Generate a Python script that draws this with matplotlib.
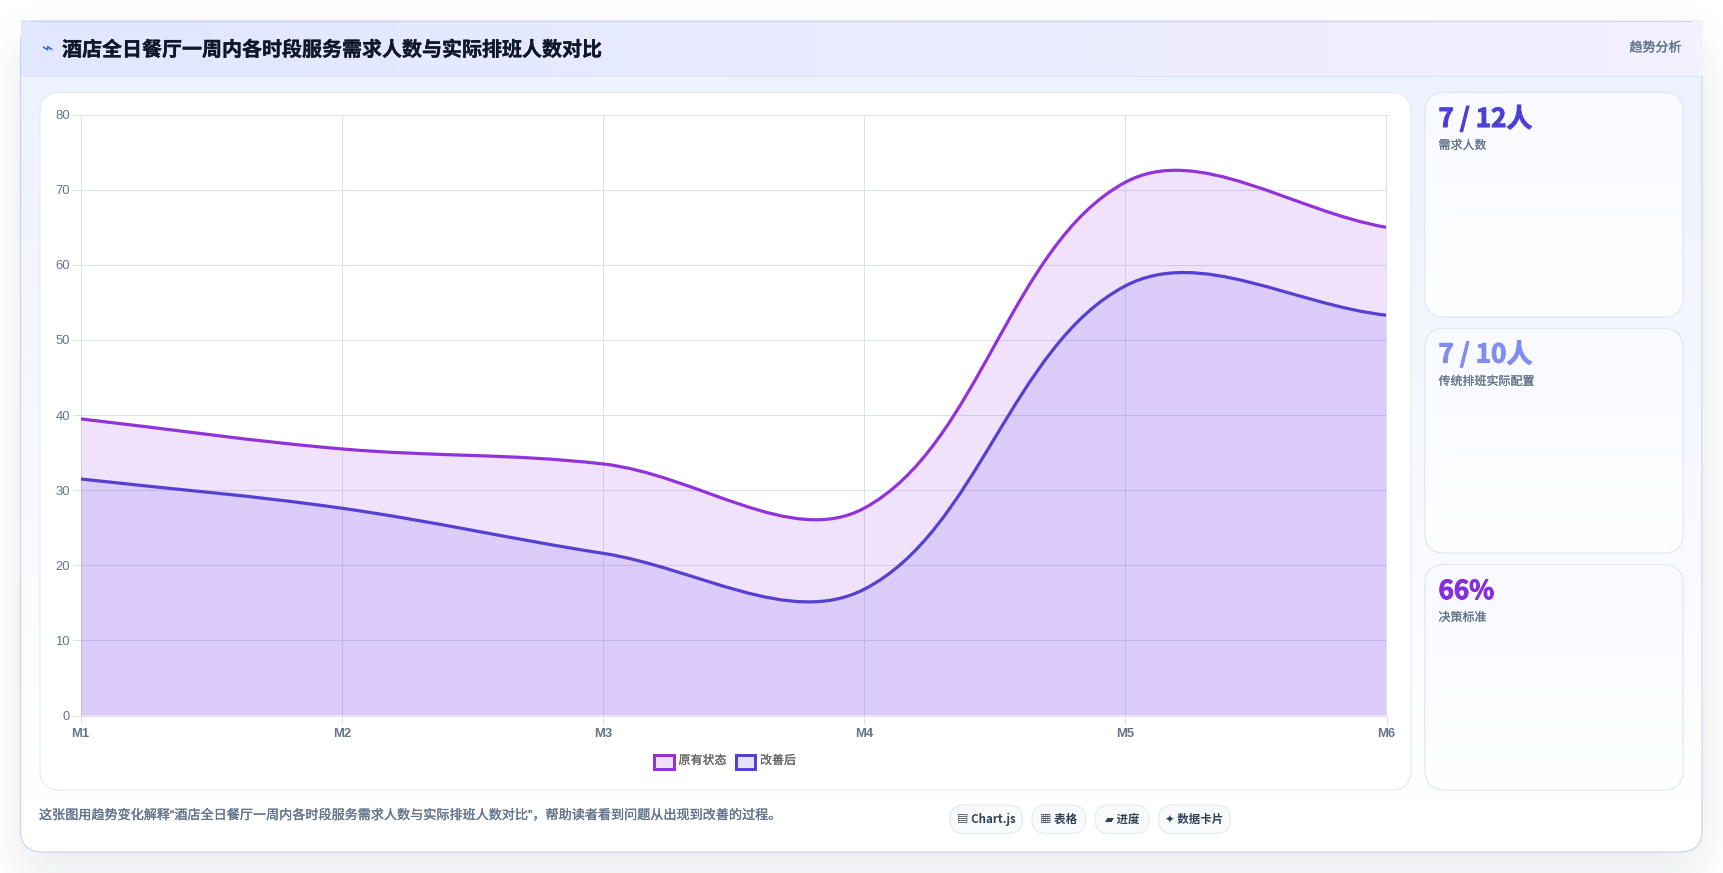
import math
import numpy as np
import matplotlib
matplotlib.use('Agg')
import matplotlib.pyplot as plt
import matplotlib.patheffects as pe
from matplotlib.patches import FancyBboxPatch, PathPatch, Rectangle
from matplotlib.path import Path

W, H = 1723, 873
px = 0.72  # font points per pixel at dpi 100

CJK = ['Noto Sans CJK SC', 'DejaVu Sans']
LATIN_CJK = ['Liberation Sans', 'Noto Sans CJK SC']

title = '酒店全日餐厅一周内各时段服务需求人数与实际排班人数对比'
badge = '趋势分析'
footnote = '这张图用趋势变化解释“酒店全日餐厅一周内各时段服务需求人数与实际排班人数对比”，帮助读者看到问题从出现到改善的过程。'

months = ['M1', 'M2', 'M3', 'M4', 'M5', 'M6']
before = [39.5, 35.5, 33.5, 27.6, 71.0, 65.0]
after = [31.5, 27.6, 21.6, 16.8, 57.2, 53.3]
y_ticks = [0, 10, 20, 30, 40, 50, 60, 70, 80]
series_names = ['原有状态', '改善后']
series_colors = ['#9233d9', '#5540d2']
fill_colors = ['#943ee4', '#5933f3']
fill_alpha = [0.15, 0.12]

stat_values = ['7 / 12人', '7 / 10人', '66%']
stat_labels = ['需求人数', '传统排班实际配置', '决策标准']
stat_colors = ['#4f3fd6', '#818cf0', '#8430dc']

pill_labels = ['▤ Chart.js', '▦ 表格', '▰ 进度', '✦ 数据卡片']


def spline_path(values, ax_w, ax_h, tension=0.36):
    # same control point rule as a tension spline, measured in screen pixels
    sx = ax_w / (len(values) - 1)
    sy = ax_h / 80
    xs = np.arange(len(values), dtype=float)
    ys = np.array(values, dtype=float)
    verts = [(xs[0], ys[0])]
    codes = [Path.MOVETO]
    before_cp = []
    after_cp = []
    for i in range(len(xs)):
        p = max(i - 1, 0)
        n = min(i + 1, len(xs) - 1)
        d01 = math.hypot((xs[i] - xs[p]) * sx, (ys[i] - ys[p]) * sy)
        d12 = math.hypot((xs[n] - xs[i]) * sx, (ys[n] - ys[i]) * sy)
        s01 = d01 / (d01 + d12)
        s12 = d12 / (d01 + d12)
        before_cp.append((xs[i] - tension * s01 * (xs[n] - xs[p]), ys[i] - tension * s01 * (ys[n] - ys[p])))
        after_cp.append((xs[i] + tension * s12 * (xs[n] - xs[p]), ys[i] + tension * s12 * (ys[n] - ys[p])))
    for i in range(len(xs) - 1):
        verts += [after_cp[i], before_cp[i + 1], (xs[i + 1], ys[i + 1])]
        codes += [Path.CURVE4, Path.CURVE4, Path.CURVE4]
    return verts, codes


def rounded(ax, x0, y0, x1, y1, r, fc, ec, lw=1.0, z=2):
    patch = FancyBboxPatch((x0, y0), x1 - x0, y1 - y0, boxstyle=f'round,pad=0,rounding_size={r}',
                           fc=fc, ec=ec, lw=lw * px, zorder=z)
    ax.add_patch(patch)
    return patch


def vgrad(top, bottom, n=256):
    c0 = np.array(matplotlib.colors.to_rgb(top))
    c1 = np.array(matplotlib.colors.to_rgb(bottom))
    t = np.linspace(0, 1, n)[:, None, None]
    return c0[None, None, :] * (1 - t) + c1[None, None, :] * t


def thick(width, color):
    # small stroke to give regular text a bit more weight
    return [pe.withStroke(linewidth=width * px, foreground=color)]


fig = plt.figure(figsize=(W / 100, H / 100), dpi=100, facecolor='white')
bg = fig.add_axes([0, 0, 1, 1])
bg.set_xlim(0, W)
bg.set_ylim(H, 0)
bg.axis('off')

# soft shadow under the main card
erf = np.vectorize(math.erf)
gx = np.arange(W) + 0.5
gy = np.arange(H) + 0.5
blur = 24.0
sh_x = 0.5 * (erf((gx - 20) / (blur * 1.414)) - erf((gx - 1702) / (blur * 1.414)))
sh_y = 0.5 * (erf((gy - 40) / (blur * 1.414)) - erf((gy - 875) / (blur * 1.414)))
shadow = np.zeros((H, W, 4))
shadow[..., :3] = matplotlib.colors.to_rgb('#0f172a')
shadow[..., 3] = np.outer(sh_y, sh_x) * 0.09
bg.imshow(shadow, extent=(0, W, H, 0), aspect='auto', zorder=1)

# main card with its body gradient
body = rounded(bg, 20.5, 20.5, 1702, 852, 22, 'white', 'none', z=1.5)
im = bg.imshow(vgrad('#eef2ff', '#ffffff'), extent=(20, 1702, 800, 76), aspect='auto', zorder=2)
im.set_clip_path(body)
rounded(bg, 20.5, 20.5, 1702, 852, 22, 'none', '#c9d4f3', lw=1.2, z=2.5)

# header strip, left to right tint
c0 = np.array(matplotlib.colors.to_rgb('#e0e7ff'))
c1 = np.array(matplotlib.colors.to_rgb('#f3f0ff'))
t = np.linspace(0, 1, 256)[None, :, None]
bg.imshow(c0[None, None, :] * (1 - t) + c1[None, None, :] * t, extent=(20.5, 1702, 76, 20.5), aspect='auto', zorder=3)
bg.plot([20.5, 1702], [76, 76], color='#dbe4f7', lw=1 * px, zorder=4)
bg.plot([30, 1692], [20.5, 20.5], color='#c9d4f3', lw=1 * px, zorder=4)

bg.text(47.5, 49, '⌁', fontsize=19 * px, color='#2f5fd8', ha='center', va='center', family='DejaVu Sans', zorder=6)
bg.text(62, 49.5, title, fontsize=20 * px, color='#0f172a', weight='bold', ha='left', va='center', family=CJK, zorder=6,
        path_effects=thick(0.3, '#0f172a'))
bg.text(1681.5, 48, badge, fontsize=13 * px, color='#64748b', ha='right', va='center', family=CJK, zorder=6,
        path_effects=thick(0.3, '#64748b'))

# chart panel
rounded(bg, 40, 92.5, 1411, 790, 20, 'white', '#e2e8f0', z=6)

# stat cards
card_tops = [92.5, 328.5, 564.5]
card_bottoms = [317, 553, 790]
value_y = [119.5, 355, 591.5]
label_y = [145.5, 381.5, 617.5]
for i in range(3):
    box = rounded(bg, 1425, card_tops[i], 1683, card_bottoms[i], 20, 'white', '#dde8f8', z=6)
    im = bg.imshow(vgrad('#f8faff', '#ffffff'), extent=(1425, 1683, card_bottoms[i], card_tops[i]), aspect='auto', zorder=6.1)
    im.set_clip_path(box)
    rounded(bg, 1425, card_tops[i], 1683, card_bottoms[i], 20, 'none', '#dde8f8', z=6.2)
    bg.text(1438.5, value_y[i], stat_values[i], fontsize=26 * px, color=stat_colors[i], weight='bold', ha='left', va='center',
            family=CJK, zorder=7, path_effects=thick(1.0, stat_colors[i]))
    bg.text(1438.5, label_y[i], stat_labels[i], fontsize=12 * px, color='#64748b', ha='left', va='center', family=CJK, zorder=7,
            path_effects=thick(0.2, '#64748b'))

# footer text and pills
bg.text(39, 815.5, footnote, fontsize=13.1 * px, color='#64748b', ha='left', va='center', family=LATIN_CJK, zorder=7,
        path_effects=thick(0.25, '#64748b'))
pill_x0 = [950, 1032, 1095, 1158.5]
pill_x1 = [1022.5, 1085.5, 1149, 1230.5]
for i in range(4):
    rounded(bg, pill_x0[i], 805, pill_x1[i], 833.5, 14, '#f8fafc', '#e2e8f0', z=6)
    bg.text((pill_x0[i] + pill_x1[i]) / 2, 819.5, pill_labels[i], fontsize=11.5 * px, color='#334155', weight='bold',
            ha='center', va='center', family=CJK, zorder=7)

# legend boxes
legend_x0 = [654, 735.5]
legend_text_x = [678.5, 760]
for i in range(2):
    bg.add_patch(Rectangle((legend_x0[i], 755), 19.5, 13.5, fc=matplotlib.colors.to_rgba(series_colors[i], 0.15),
                           ec=series_colors[i], lw=3 * px, zorder=7))
    bg.text(legend_text_x[i], 760.5, series_names[i], fontsize=12 * px, color='#666666', ha='left', va='center',
            family=CJK, zorder=7, path_effects=thick(0.2, '#666666'))

# line chart
plot_l, plot_r, plot_t, plot_b = 80.5, 1386.5, 114.7, 715.5
ax = fig.add_axes([plot_l / W, 1 - plot_b / H, (plot_r - plot_l) / W, (plot_b - plot_t) / H], facecolor='none', zorder=5)
ax.set_xlim(0, 5)
ax.set_ylim(0, 80)
ax.set_xticks(range(6), months)
ax.set_yticks(y_ticks)
ax.grid(True, color='#dde1e8', lw=1 * px)
ax.set_axisbelow(True)
ax.tick_params(axis='both', length=8 * px, width=1 * px, color='#dde1e8', labelcolor='#64748b', pad=2)
ax.tick_params(axis='x', pad=3)
for lab in ax.get_yticklabels():
    lab.set_fontsize(13 * px)
    lab.set_family('Liberation Sans')
for lab in ax.get_xticklabels():
    lab.set_fontsize(13 * px)
    lab.set_family('Liberation Sans')
    lab.set_weight('bold')
for s in ax.spines.values():
    s.set_color('#dde1e8')
    s.set_linewidth(1 * px)

for i, values in enumerate([before, after]):
    verts, codes = spline_path(values, plot_r - plot_l, plot_b - plot_t)
    fill_path = Path(verts + [(5, 0), (0, 0), (0, values[0])], codes + [Path.LINETO, Path.LINETO, Path.CLOSEPOLY])
    ax.add_patch(PathPatch(fill_path, fc=fill_colors[i], alpha=fill_alpha[i], ec='none', zorder=3))
    ax.add_patch(PathPatch(Path(verts, codes), fc='none', ec=series_colors[i], lw=3.2 * px, zorder=4, clip_on=True))

fig.savefig('out.png', dpi=100, facecolor='white')
